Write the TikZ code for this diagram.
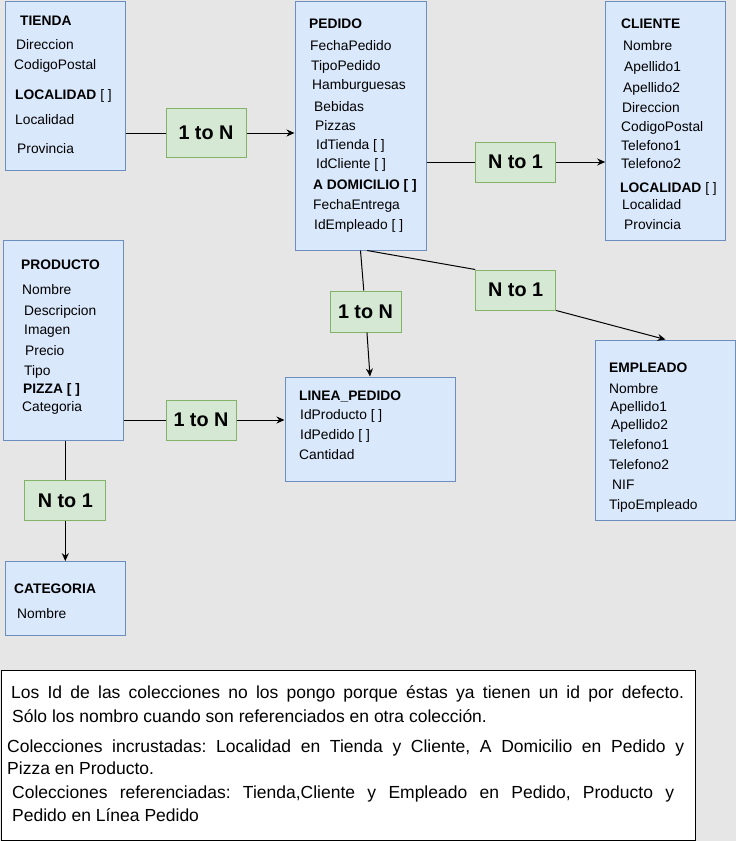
\documentclass[tikz,border=0pt]{standalone}
\usepackage{fontspec}
\setmainfont{Liberation Sans}
\usepackage{xcolor}
\usepackage{tikz}
\usetikzlibrary{arrows.meta,positioning}
\frenchspacing
\definecolor{bg}{HTML}{E6E6E6}
\definecolor{entfill}{HTML}{DAE8FC}
\definecolor{entline}{HTML}{6C8EBF}
\definecolor{relfill}{HTML}{D5E8D4}
\definecolor{relline}{HTML}{82B366}
\tikzset{
  ent/.style={draw=entline, fill=entfill, line width=1pt, inner sep=0pt},
  rel/.style={draw=relline, fill=relfill, line width=1pt, inner sep=0pt, minimum width=80pt, minimum height=40pt, font=\fontsize{19.8}{22}\selectfont\bfseries},
  fld/.style={anchor=base west, inner sep=0pt, font=\fontsize{13.8}{16}\selectfont},
  ttl/.style={fld, font=\fontsize{13.8}{16}\selectfont\bfseries},
  link/.style={draw=black, line width=1pt},
  arr/.style={link, -{Stealth[length=8pt,width=7pt]}},
  notel/.style={anchor=base west, inner sep=0pt, font=\fontsize{17.5}{20}\selectfont},
}
\begin{document}
\begin{tikzpicture}[x=1pt,y=-1pt]
\fill[bg] (0,0) rectangle (736,841);
\useasboundingbox (0,0) rectangle (736,841);

\node[ent, minimum width=120pt, minimum height=169pt] (tienda) at (65,85.5) {};
\node[ttl] (tienda-t) at (20,25) {TIENDA};
\foreach \x/\y/\t [count=\i] in {16/49/Direccion, 14/69/CodigoPostal, 15/99/{\textbf{LOCALIDAD} [ ]}, 15/124/Localidad, 17/153/Provincia}
  \node[fld] (tienda-\i) at (\x,\y) {\t};

\node[ent, minimum width=131pt, minimum height=249pt] (pedido) at (360.5,125.5) {};
\node[ttl] (pedido-t) at (309,28) {PEDIDO};
\foreach \x/\y/\t [count=\i] in {310/50/FechaPedido, 311/70/TipoPedido, 312/89/Hamburguesas, 314/111/Bebidas, 315/130/Pizzas, 316/149/{IdTienda [ ]}, 316/168/{IdCliente [ ]}, 313/189/{\textbf{A DOMICILIO [ ]}}, 313/209/FechaEntrega, 314/229/{IdEmpleado [ ]}}
  \node[fld] (pedido-\i) at (\x,\y) {\t};

\node[ent, minimum width=120pt, minimum height=239pt] (cliente) at (665.7,120.5) {};
\node[ttl] (cliente-t) at (621,28) {CLIENTE};
\foreach \x/\y/\t [count=\i] in {623/50/Nombre, 624/71/Apellido1, 623/92/Apellido2, 622/112/Direccion, 621/131/CodigoPostal, 621/150/Telefono1, 621/168/Telefono2, 620/192/{\textbf{LOCALIDAD} [ ]}, 622/209/Localidad, 624/229/Provincia}
  \node[fld] (cliente-\i) at (\x,\y) {\t};

\node[ent, minimum width=120pt, minimum height=200pt] (producto) at (63.3,340) {};
\node[ttl] (producto-t) at (21,269) {PRODUCTO};
\foreach \x/\y/\t [count=\i] in {22/294/Nombre, 24/315/Descripcion, 24/334/Imagen, 25/355/Precio, 24/375/Tipo, 23/393/{\textbf{PIZZA [ ]}}, 22/411/Categoria}
  \node[fld] (producto-\i) at (\x,\y) {\t};

\node[ent, minimum width=170pt, minimum height=104pt] (linea) at (370,429) {};
\node[ttl] (linea-t) at (299,400) {LINEA\_PEDIDO};
\foreach \x/\y/\t [count=\i] in {300/419/{IdProducto [ ]}, 300/439/{IdPedido [ ]}, 299/459/Cantidad}
  \node[fld] (linea-\i) at (\x,\y) {\t};

\node[ent, minimum width=139.6pt, minimum height=180pt] (empleado) at (665.5,430) {};
\node[ttl] (empleado-t) at (609,372) {EMPLEADO};
\foreach \x/\y/\t [count=\i] in {609/393/Nombre, 610/411/Apellido1, 611/429/Apellido2, 609/449/Telefono1, 609/469/Telefono2, 612/489/NIF, 609/509/TipoEmpleado}
  \node[fld] (empleado-\i) at (\x,\y) {\t};

\node[ent, minimum width=120pt, minimum height=74.3pt] (categoria) at (65.3,598.8) {};
\node[ttl] (categoria-t) at (14,593) {CATEGORIA};
\node[fld] (categoria-1) at (17,618) {Nombre};

\node[rel, minimum height=49pt] (tp) at (206,133) {1 to N};
\node[rel] (pc) at (515.5,162) {N to 1};
\node[rel, minimum width=71pt, minimum height=41pt] (pl) at (365.5,311.5) {1 to N};
\node[rel] (pe) at (515.7,290) {N to 1};
\node[rel, minimum width=70pt] (ppl) at (201,420) {1 to N};
\node[rel, minimum width=81pt] (pcat) at (65.3,500.7) {N to 1};

\draw[link] (tienda.east |- tp) -- (tp);
\draw[arr] (tp) -- (pedido.west |- tp);
\draw[link] (pedido.east |- pc) -- (pc);
\draw[arr] (pc) -- (cliente.west |- pc);
\draw[link] (pedido.south) -- (pl);
\draw[arr] (pl) -- (linea.north);
\draw[link] (pedido.-87.5) -- (pe.north west);
\draw[arr] (pe.south east) -- (empleado.north);
\draw[link] (producto.east |- ppl) -- (ppl);
\draw[arr] (ppl) -- (linea.west |- ppl);
\draw[link] (producto.south -| pcat) -- (pcat);
\draw[arr] (pcat) -- (categoria.north);

\node[draw=black, fill=white, line width=1pt, minimum width=694pt, minimum height=170pt, inner sep=0pt] (note) at (348,755) {};
\node[notel] (note-1) at (11,698) {\makebox[673pt][s]{Los Id de las colecciones no los pongo porque éstas ya tienen un id por defecto.}};
\node[notel] (note-2) at (12,722) {Sólo los nombro cuando son referenciados en otra colección.};
\node[notel] (note-3) at (7,752) {\makebox[677pt][s]{Colecciones incrustadas: Localidad en Tienda y Cliente, A Domicilio en Pedido y}};
\node[notel] (note-4) at (7,774) {Pizza en Producto.};
\node[notel] (note-5) at (12,798) {\makebox[662pt][s]{Colecciones referenciadas: Tienda,Cliente y Empleado en Pedido, Producto y}};
\node[notel] (note-6) at (12,821) {Pedido en Línea Pedido};
\end{tikzpicture}
\end{document}
